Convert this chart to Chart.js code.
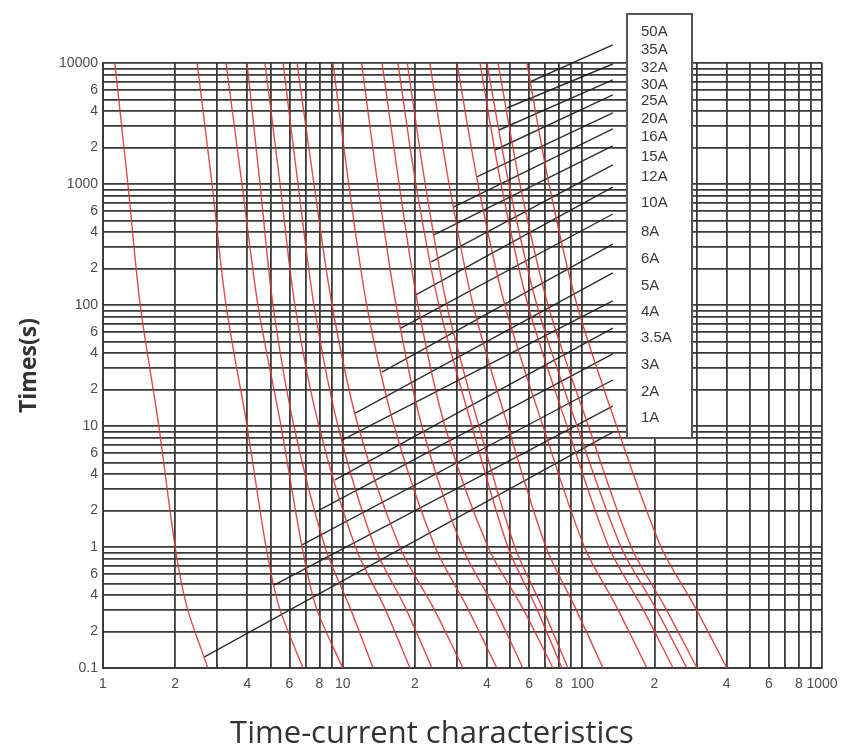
<!DOCTYPE html>
<html>
<head>
<meta charset="utf-8">
<title>Time-current characteristics</title>
<script src="https://cdn.jsdelivr.net/npm/chart.js@4.4.1/dist/chart.umd.min.js"></script>
<style>
  html, body { margin: 0; padding: 0; background: #fff; }
  #wrap { width: 858px; height: 751px; position: relative; }
</style>
</head>
<body>
<div id="wrap"><canvas id="tcc"></canvas></div>
<script>
// fuse ratings, left-most curve first
const fuseLabels = ['1A', '2A', '3A', '3.5A', '4A', '5A', '6A', '8A', '10A', '12A', '15A', '16A', '20A', '25A', '30A', '32A', '35A', '50A'];

const curveTimes = [10000, 1000, 100, 10, 1, 0.32, 0.1];

// current (A) of each curve at the times above
const curveCurrents = [
  [1.12, 1.27, 1.43, 1.71, 2.0, 2.24, 2.74],
  [2.47, 2.85, 3.26, 3.99, 4.79, 5.43, 6.83],
  [3.26, 3.8, 4.43, 5.53, 6.77, 7.74, 10.0],
  [3.99, 4.52, 5.12, 6.26, 8.44, 10.7, 13.4],
  [4.74, 5.48, 6.32, 7.96, 11.3, 14.9, 19.1],
  [5.64, 6.51, 7.59, 9.56, 13.6, 18.2, 23.6],
  [6.45, 7.59, 9.03, 11.6, 17.3, 23.8, 31.8],
  [9.11, 10.6, 12.6, 16.4, 24.3, 33.0, 44.0],
  [12.0, 14.0, 16.7, 21.4, 31.5, 42.8, 56.5],
  [14.6, 17.2, 20.6, 26.7, 40.4, 56.0, 75.4],
  [17.0, 20.2, 25.2, 34.6, 48.9, 64.0, 82.2],
  [18.6, 22.1, 27.2, 37.0, 52.3, 67.9, 87.1],
  [23.1, 27.8, 35.0, 48.9, 70.5, 93.1, 122],
  [30.0, 36.7, 47.5, 68.5, 102, 139, 186],
  [37.4, 45.8, 59.3, 86.3, 129, 177, 239],
  [40.0, 49.4, 64.6, 95.0, 145, 201, 273],
  [44.5, 54.9, 71.9, 106, 160, 221, 301],
  [58.7, 72.6, 95.0, 139, 213, 295, 401]
];

// leader lines from each curve to its label
const leaderStartCurrent = [2.64, 5.17, 6.77, 7.74, 9.29, 9.93, 11.3, 14.6, 17.5, 20.2, 23.4, 24.0, 29.1, 36.3, 43.2, 44.9, 48.5, 60.4];
const leaderStartTime = [0.123, 0.485, 1.04, 1.95, 3.58, 7.66, 12.8, 27.9, 64.5, 121, 227, 379, 646, 1143, 1910, 2795, 4246, 6966];
const leaderEndCurrent = [134, 134, 134, 134, 134, 134, 134, 134, 134, 134, 134, 134, 134, 134, 134, 134, 134, 134];
const leaderEndTime = [8.91, 14.6, 24.0, 39.4, 64.5, 108, 184, 319, 565, 944, 1436, 2061, 2851, 3865, 5441, 7244, 9812, 14090];

const xTickValues = [1, 2, 4, 6, 8, 10, 20, 40, 60, 80, 100, 200, 400, 600, 800, 1000];
const xTickLabels = ['1', '2', '4', '6', '8', '10', '2', '4', '6', '8', '100', '2', '4', '6', '8', '1000'];
const yTickValues = [10000, 6000, 4000, 2000, 1000, 600, 400, 200, 100, 60, 40, 20, 10, 6, 4, 2, 1, 0.6, 0.4, 0.2, 0.1];
const yTickLabels = ['10000', '6', '4', '2', '1000', '6', '4', '2', '100', '6', '4', '2', '10', '6', '4', '2', '1', '6', '4', '2', '0.1'];

// one grid line at every 1..9 step of each decade
function decadeTicks(fromExp, toExp) {
  const out = [];
  for (let e = fromExp; e < toExp; e++) {
    for (let m = 1; m <= 9; m++) out.push({ value: parseFloat((m * Math.pow(10, e)).toPrecision(6)) });
  }
  out.push({ value: Math.pow(10, toExp) });
  return out;
}

function labelFor(v, values, labels) {
  const i = values.findIndex(u => Math.abs(u - v) / u < 1e-6);
  return i >= 0 ? labels[i] : '';
}

const curveSets = fuseLabels.map((lab, i) => ({
  label: lab,
  data: curveTimes.map((t, j) => ({ x: curveCurrents[i][j], y: t })),
  showLine: true,
  borderColor: 'rgba(216, 56, 56, 0.9)',
  borderWidth: 1.4,
  pointRadius: 0,
  tension: 0.3
}));

const leaderSets = fuseLabels.map((lab, i) => ({
  label: lab + ' leader',
  data: [
    { x: leaderStartCurrent[i], y: leaderStartTime[i] },
    { x: leaderEndCurrent[i], y: leaderEndTime[i] }
  ],
  showLine: true,
  borderColor: 'rgba(25, 25, 25, 0.9)',
  borderWidth: 1.4,
  pointRadius: 0,
  clip: false
}));

// label box + x axis title
const legendRowY = [418, 392, 365, 338, 312, 286, 259, 232, 203, 177, 157, 137, 119, 101, 85, 68, 50, 32];
const overlay = {
  id: 'overlay',
  afterDatasetsDraw(chart) {
    const ctx = chart.ctx;
    ctx.save();
    ctx.fillStyle = '#fff';
    ctx.fillRect(627, 14, 65, 424);
    ctx.strokeStyle = '#555';
    ctx.lineWidth = 2;
    ctx.strokeRect(627, 14, 65, 424);
    ctx.fillStyle = '#3a3a3a';
    ctx.font = "15px 'Liberation Sans', Arial, sans-serif";
    ctx.textBaseline = 'middle';
    ctx.textAlign = 'left';
    fuseLabels.forEach((lab, i) => ctx.fillText(lab, 641, legendRowY[i]));

    ctx.fillStyle = '#333';
    ctx.font = "31px 'Open Sans', sans-serif";
    ctx.textAlign = 'center';
    ctx.fillText('Time-current characteristics', 432, 734);
    ctx.restore();
  }
};

const gridStyle = { color: '#3a3a3a', lineWidth: 1.8, drawTicks: false };
const tickFont = { family: "'Liberation Sans', Arial, sans-serif", size: 14 };

new Chart(document.getElementById('tcc'), {
  type: 'scatter',
  data: { datasets: curveSets.concat(leaderSets) },
  options: {
    responsive: true,
    maintainAspectRatio: false,
    animation: false,
    layout: { padding: { left: 0, right: 36, top: 63, bottom: 0 } },
    plugins: {
      legend: { display: false },
      tooltip: { enabled: false }
    },
    scales: {
      x: {
        type: 'logarithmic',
        min: 1,
        max: 1000,
        afterBuildTicks: s => { s.ticks = decadeTicks(0, 3); },
        afterFit: s => { s.height = 83; },
        grid: gridStyle,
        border: { color: '#3a3a3a', width: 2 },
        ticks: {
          autoSkip: false, maxRotation: 0, minRotation: 0, padding: 8,
          color: '#4d4d4d', font: tickFont,
          callback: v => labelFor(v, xTickValues, xTickLabels)
        }
      },
      y: {
        type: 'logarithmic',
        min: 0.1,
        max: 10000,
        afterBuildTicks: s => { s.ticks = decadeTicks(-1, 4); },
        afterFit: s => { s.width = 103; },
        grid: gridStyle,
        border: { color: '#3a3a3a', width: 2 },
        ticks: {
          autoSkip: false, padding: 5,
          color: '#4d4d4d', font: tickFont,
          callback: v => labelFor(v, yTickValues, yTickLabels)
        },
        title: {
          display: true,
          text: 'Times(s)',
          color: '#333',
          font: { family: "'Open Sans', sans-serif", size: 23, weight: 'bold' },
          padding: { top: 16 }
        }
      }
    }
  },
  plugins: [overlay]
});
</script>
</body>
</html>
